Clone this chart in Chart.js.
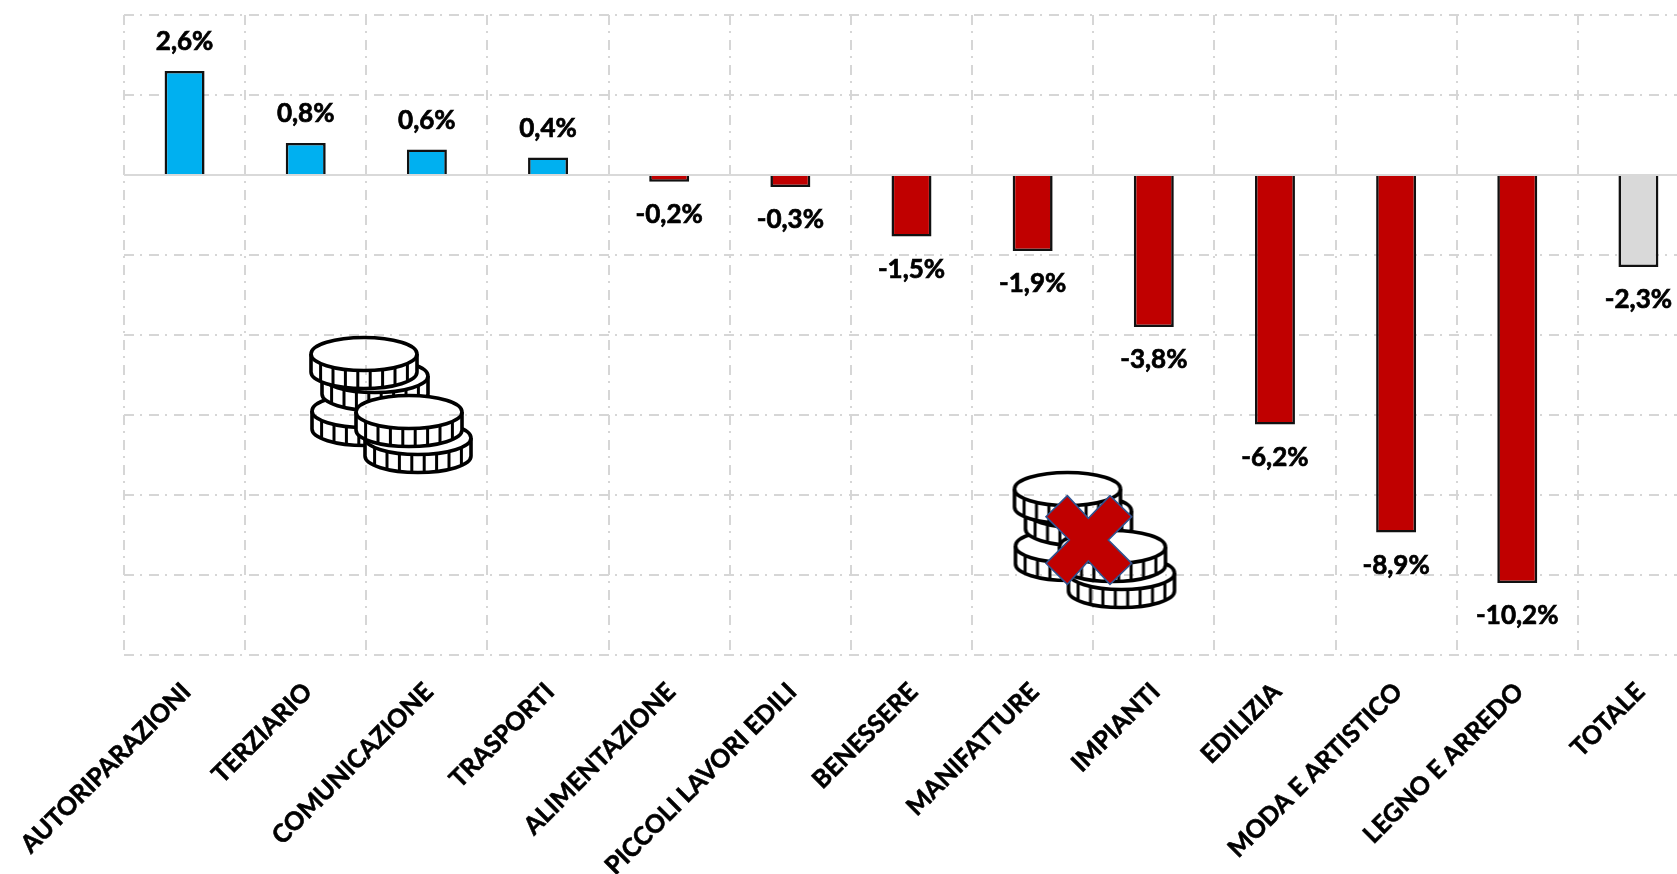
<!DOCTYPE html>
<html><head><meta charset="utf-8">
<style>html,body{margin:0;padding:0;background:#fff;overflow:hidden}#wrap{width:1677px;height:874px;overflow:hidden;position:relative}canvas{display:block}</style>
<script src="https://cdn.jsdelivr.net/npm/chart.js@4/dist/chart.umd.min.js"></script>
</head><body><div id="wrap"><canvas id="c" width="1760" height="960"></canvas></div>
<script>
const categories = ["AUTORIPARAZIONI","TERZIARIO","COMUNICAZIONE","TRASPORTI","ALIMENTAZIONE","PICCOLI LAVORI EDILI","BENESSERE","MANIFATTURE","IMPIANTI","EDILIZIA","MODA E ARTISTICO","LEGNO E ARREDO","TOTALE"];
const values = [2.6,0.8,0.64,0.44,-0.17,-0.3,-1.54,-1.9,-3.8,-6.24,-8.94,-10.2,-2.3];
const barColors = ["#00B0F0","#00B0F0","#00B0F0","#00B0F0","#C00000","#C00000","#C00000","#C00000","#C00000","#C00000","#C00000","#C00000","#D9D9D9"];
const CW=1760,CH=960,L=124,T=15,B=655,R=1699;
const FONT='Lato';
function coinLayer(){
  const off=document.createElement('canvas');off.width=200;off.height=180;
  const g=off.getContext('2d');
  const coin=(cx,cy)=>{
    const rx=53,ry=16.5,h=18;
    g.beginPath();
    g.ellipse(cx,cy,rx,ry,0,Math.PI,0,false);
    g.lineTo(cx+rx,cy+h);
    g.ellipse(cx,cy+h,rx,ry,0,0,Math.PI,false);
    g.closePath();
    g.globalCompositeOperation='destination-out';g.fill();
    g.globalCompositeOperation='source-over';
    g.strokeStyle='#000';g.lineWidth=3.6;g.stroke();
    g.beginPath();g.ellipse(cx,cy,rx,ry,0,0,Math.PI,false);g.stroke();
    g.lineWidth=3;
    for(let i=-3.5;i<=3.5;i++){
      const x=cx+i*12.4;
      const y0=cy+ry*Math.sqrt(1-Math.pow((x-cx)/rx,2));
      g.beginPath();g.moveTo(x,y0);g.lineTo(x,y0+h);g.stroke();
    }
  };
  // centres relative to the icon box
  coin(62,91);   // lower-left
  coin(72,56);   // middle-left
  coin(61,34);   // top-left
  coin(115,118); // lower-right
  coin(106,92);  // upper-right
  return off;
}
const decor={id:'decor',
  beforeDatasetsDraw(chart){
    const {ctx,scales:{x,y}}=chart;
    const y0=y.getPixelForValue(0);
    ctx.save();ctx.strokeStyle='#D9D9D9';ctx.lineWidth=2;ctx.beginPath();ctx.moveTo(L,y0);ctx.lineTo(R,y0);ctx.stroke();
    const im=coinLayer();
    ctx.drawImage(im,303,320);
    ctx.drawImage(im,1006.5,455);
    // red cross over the second icon
    const p=[[232,122],[295,190],[360,122],[425,185],[355,255],[425,325],[360,388],[295,318],[232,388],[168,325],[238,255],[168,185]];
    ctx.beginPath();p.forEach((q,i)=>{const a=990+q[0]/3,b=455+q[1]/3;i?ctx.lineTo(a,b):ctx.moveTo(a,b);});ctx.closePath();
    ctx.fillStyle='#C00000';ctx.fill();ctx.strokeStyle='#2F528F';ctx.lineWidth=1.6;ctx.stroke();
    ctx.restore();
  },
  afterDatasetsDraw(chart){
    const {ctx}=chart;const meta=chart.getDatasetMeta(0);
    ctx.save();ctx.font='bold 26px '+FONT;ctx.fillStyle='#000';ctx.strokeStyle='#000';ctx.lineWidth=0.7;ctx.textAlign='center';ctx.textBaseline='middle';
    meta.data.forEach((b,i)=>{
      const v=values[i];
      const t=v.toFixed(1).replace('.',',')+'%';
      const yy=b.y+(v>=0?-29:33);
      ctx.fillText(t,b.x,yy);ctx.strokeText(t,b.x,yy);
    });
    ctx.restore();
  }
};
new Chart(document.getElementById('c'),{
  type:'bar',
  data:{labels:categories,datasets:[{data:values,backgroundColor:barColors,borderColor:'#111',borderWidth:2.6,barPercentage:0.33,categoryPercentage:1}]},
  options:{
    responsive:false,animation:false,devicePixelRatio:1,
    layout:{padding:{left:L,top:T,right:CW-R,bottom:0}},
    plugins:{legend:{display:false},tooltip:{enabled:false}},
    scales:{
      x:{offset:true,
        grid:{offset:true,color:'#D6D6D6',lineWidth:2,drawTicks:false},
        border:{display:false,dash:[10,6,2,7]},
        ticks:{autoSkip:false,maxRotation:45,minRotation:45,padding:22,labelOffset:2,color:'#000',textStrokeColor:'#000',textStrokeWidth:0.6,font:{family:FONT,weight:'bold',size:25}},
        afterFit(s){s.height=CH-B;s.paddingLeft=0;s.paddingRight=0;}
      },
      y:{min:-12,max:4,
        grid:{color:'#D6D6D6',lineWidth:2,drawTicks:false},
        border:{display:false,dash:[10,6,2,7]},
        ticks:{display:false,stepSize:2},
        afterFit(s){s.width=0;}
      }
    }
  },
  plugins:[decor]
});
</script></body></html>
